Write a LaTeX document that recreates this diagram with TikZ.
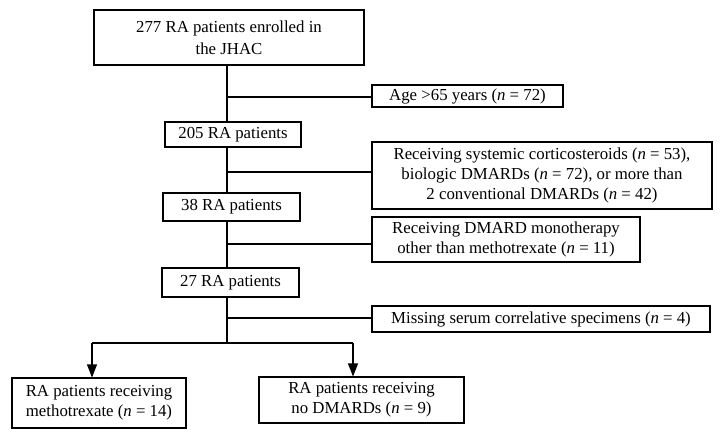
\documentclass[tikz,border=0pt]{standalone}
\usepackage{fontspec}
\setmainfont{Liberation Serif}
\usetikzlibrary{arrows.meta}
\tikzset{
  box/.style={draw, line width=1.1pt, inner sep=0pt, align=center, font=\fontsize{16.8}{20}\selectfont},
  conn/.style={line width=1.1pt},
  arr/.style={line width=1.1pt, -{Triangle[width=10pt,length=13pt]}}
}
\newcommand{\nn}{\textit{n}}
\begin{document}
\begin{tikzpicture}[x=1pt,y=-1pt]
\useasboundingbox (0,0) rectangle (727,439);
\node[box, minimum width=270pt, minimum height=55pt, font=\fontsize{16.8}{22}\selectfont] (top) at (229,37.5) {277 RA patients enrolled in\\the JHAC};
\node[box, minimum width=191pt, minimum height=22pt] (age) at (467.5,96) {Age >65 years (\nn{} = 72)};
\node[box, minimum width=136pt, minimum height=25pt] (n205) at (233,134.5) {205 RA patients};
\node[box, minimum width=340pt, minimum height=67pt] (cort) at (542,175.5) {Receiving systemic corticosteroids (\nn{} = 53),\\biologic DMARDs (\nn{} = 72), or more than\\2 conventional DMARDs (\nn{} = 42)};
\node[box, minimum width=137pt, minimum height=28pt] (n38) at (231.5,207) {38 RA patients};
\node[box, minimum width=268pt, minimum height=45pt] (mono) at (506,239.5) {Receiving DMARD monotherapy\\other than methotrexate (\nn{} = 11)};
\node[box, minimum width=137pt, minimum height=29pt] (n27) at (230.5,282.5) {27 RA patients};
\node[box, minimum width=338pt, minimum height=26pt] (miss) at (541,319) {Missing serum correlative specimens (\nn{} = 4)};
\node[box, minimum width=174pt, minimum height=50pt] (mtx) at (99,403) {RA patients receiving\\methotrexate (\nn{} = 14)};
\node[box, minimum width=205pt, minimum height=46pt] (nod) at (361.5,400) {RA patients receiving\\no DMARDs (\nn{} = 9)};
\coordinate (j1) at (227,97);
\coordinate (j2) at (227,172);
\coordinate (j3) at (227,244);
\coordinate (j4) at (227,318);
\coordinate (sp) at (227,343);
\coordinate (sl) at (92,343);
\coordinate (sr) at (353,343);
\draw[conn] (top.south -| j1) -- (n205.north -| j1);
\draw[conn] (j1) -- (j1 -| age.west);
\draw[conn] (n205.south -| j2) -- (n38.north -| j2);
\draw[conn] (j2) -- (j2 -| cort.west);
\draw[conn] (n38.south -| j3) -- (n27.north -| j3);
\draw[conn] (j3) -- (j3 -| mono.west);
\draw[conn] (n27.south -| j4) -- (sp);
\draw[conn] (j4) -- (j4 -| miss.west);
\draw[conn] (sl) -- (sr);
\draw[arr] (sl) -- (mtx.north -| sl);
\draw[arr] (sr) -- (nod.north -| sr);
\end{tikzpicture}
\end{document}
